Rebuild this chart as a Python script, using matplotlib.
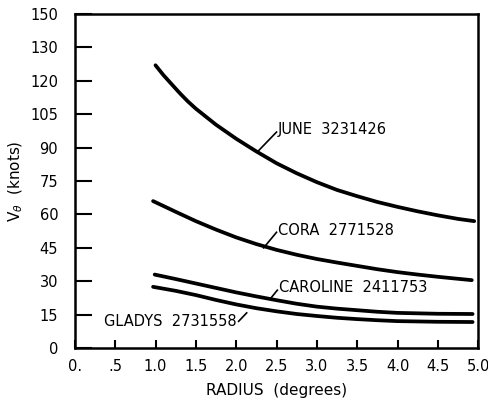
import matplotlib.pyplot as plt
import numpy as np

# radius [degrees] and tangential wind [knots]
june_radius = [1.0, 1.1, 1.2, 1.3, 1.4, 1.5, 1.75, 2.0, 2.25, 2.5, 2.75, 3.0, 3.25, 3.5, 3.75, 4.0, 4.25, 4.5, 4.75, 4.95]
june_vt = [127, 122.5, 118.5, 114.5, 110.8, 107.5, 100.3, 94, 88.3, 83, 78.5, 74.5, 71, 68.2, 65.6, 63.4, 61.4, 59.6, 58, 57]

cora_radius = [0.97, 1.25, 1.5, 1.75, 2.0, 2.25, 2.5, 2.75, 3.0, 3.25, 3.5, 3.75, 4.0, 4.25, 4.5, 4.75, 4.92]
cora_vt = [66, 61.2, 57, 53.2, 49.7, 46.7, 44.1, 41.9, 40, 38.4, 36.9, 35.4, 34.1, 33, 32, 31.1, 30.5]

caroline_radius = [0.99, 1.25, 1.5, 1.75, 2.0, 2.25, 2.5, 2.75, 3.0, 3.25, 3.5, 3.75, 4.0, 4.5, 4.93]
caroline_vt = [33, 31, 29, 27, 25, 23.2, 21.5, 19.9, 18.6, 17.7, 17, 16.3, 15.8, 15.4, 15.3]

gladys_radius = [0.97, 1.25, 1.5, 1.75, 2.0, 2.25, 2.5, 2.75, 3.0, 3.25, 3.5, 3.75, 4.0, 4.5, 4.93]
gladys_vt = [27.5, 25.7, 23.8, 21.6, 19.6, 17.9, 16.5, 15.3, 14.4, 13.6, 13, 12.5, 12.1, 11.8, 11.7]

x_ticks = [0, 0.5, 1.0, 1.5, 2.0, 2.5, 3.0, 3.5, 4.0, 4.5, 5.0]
x_tick_labels = ["0.", ".5", "1.0", "1.5", "2.0", "2.5", "3.0", "3.5", "4.0", "4.5", "5.0"]
y_ticks = [0, 15, 30, 45, 60, 75, 90, 105, 120, 135, 150]
y_tick_labels = ["0", "15", "30", "45", "60", "75", "90", "105", "120", "130", "150"]

fig = plt.figure(figsize=(4.89, 4.01), dpi=100)
ax = fig.add_axes([0.153, 0.132, 0.825, 0.833])

for radius, vt in [
    (june_radius, june_vt),
    (cora_radius, cora_vt),
    (caroline_radius, caroline_vt),
    (gladys_radius, gladys_vt),
]:
    ax.plot(radius, vt, color="black", linewidth=2.7,
            solid_capstyle="round", solid_joinstyle="round")

ax.set_xlim(0, 5.0)
ax.set_ylim(0, 150)

for spine in ax.spines.values():
    spine.set_linewidth(1.8)

ax.set_xticks(x_ticks)
ax.set_xticklabels(x_tick_labels)
ax.set_yticks(y_ticks)
ax.set_yticklabels(y_tick_labels)
ax.tick_params(axis="x", direction="in", length=6, width=1.5, labelsize=10.5, pad=8)
ax.tick_params(axis="y", direction="in", length=12, width=1.5, labelsize=10.5, pad=12)

ax.set_xlabel("RADIUS  (degrees)", fontsize=11, labelpad=6)
ax.set_ylabel(r"V$_\theta$  (knots)", fontsize=11, labelpad=4)

# 曲線ラベルと引き出し線
labels = [
    ("JUNE  3231426", (2.26, 88), (2.5, 97)),
    ("CORA  2771528", (2.34, 45), (2.5, 52)),
    ("CAROLINE  2411753", (2.42, 22), (2.51, 26)),
]
for text, (xa, ya), (xt, yt) in labels:
    ax.plot([xa, xt], [ya, yt], color="black", linewidth=1.2)
    ax.text(xt + 0.02, yt + 1, text, fontsize=10.5, ha="left", va="center")

ax.plot([2.03, 2.13], [12.0, 15.8], color="black", linewidth=1.2)
ax.text(2.01, 11.8, "GLADYS  2731558", fontsize=10.5, ha="right", va="center")

fig.savefig("out.png", dpi=100)
